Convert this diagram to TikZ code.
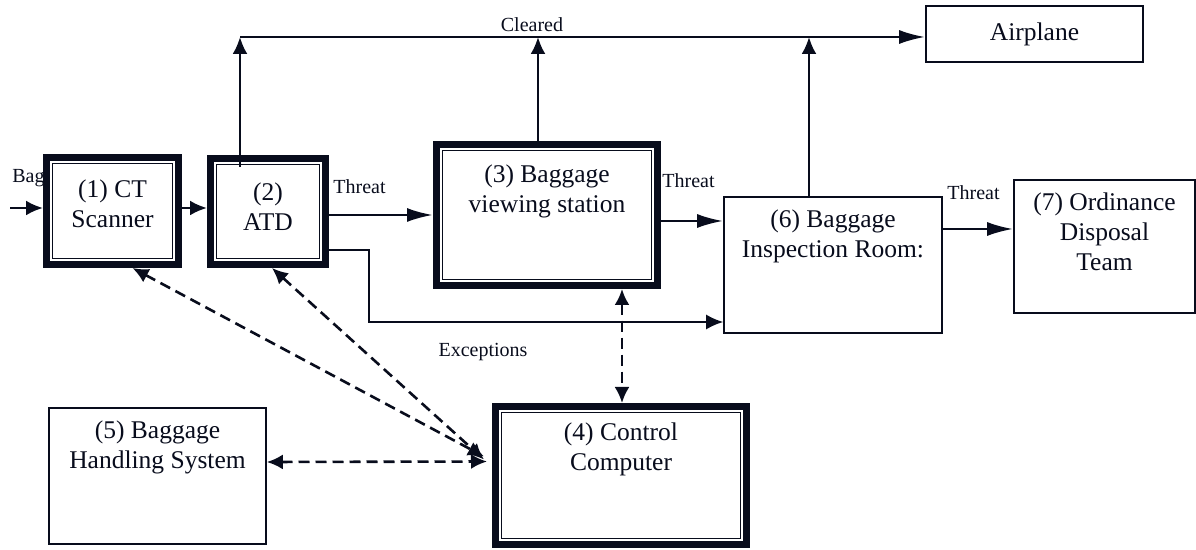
\documentclass[tikz,border=0pt]{standalone}
\usepackage{fontspec}
\setmainfont{Liberation Serif}
\usetikzlibrary{arrows.meta}
\definecolor{ink}{RGB}{8,12,28}
\tikzset{
  box/.style={draw=ink, line width=0.8pt, fill=white, inner sep=0pt},
  dbox/.style={draw=ink, line width=3.5pt, fill=white, inner sep=0pt},
  boxtext/.style={align=center, font=\rmfamily\fontsize{12.75pt}{15pt}\selectfont, text=ink, inner sep=0pt},
  lbl/.style={font=\rmfamily\fontsize{10pt}{12pt}\selectfont, text=ink, inner sep=0pt},
  arr/.style={draw=ink, line width=1.3pt, -{Latex[length=8.5pt,width=7.5pt]}},
  larr/.style={draw=ink, line width=1.3pt, -{Latex[length=13pt,width=7pt]}},
  darr/.style={draw=ink, line width=1.3pt, dash pattern=on 5.5pt off 3pt,
    {Latex[length=8pt,width=7.5pt]}-{Latex[length=8pt,width=7.5pt]}},
}

\begin{document}
\begin{tikzpicture}[x=0.5pt,y=-0.5pt]
  \useasboundingbox (0,0) rectangle (1196,550);
  \node[lbl,anchor=west] (bag) at (12,178) {Bag};
  % double framed stations
  \node[dbox,minimum width=66pt,minimum height=53.5pt] (ct) at (112.5,211) {};
  \node[dbox,minimum width=57.5pt,minimum height=53pt] (atd) at (268,211.5) {};
  \node[dbox,minimum width=110.5pt,minimum height=70.5pt] (bvs) at (547,215) {};
  \node[dbox,minimum width=125.5pt,minimum height=69pt] (cc) at (621,475.5) {};
  \foreach \b in {ct,atd,bvs,cc}
    \draw[ink,line width=0.8pt] ([shift={(4.75pt,-4.75pt)}]\b.north west) rectangle ([shift={(-4.75pt,4.75pt)}]\b.south east);
  % plain boxes
  \node[box,minimum width=108.5pt,minimum height=68pt] (bhs) at (157.5,476) {};
  \node[box,minimum width=109pt,minimum height=68pt] (bir) at (833,265) {};
  \node[box,minimum width=90.5pt,minimum height=66.5pt] (odt) at (1104.5,246.5) {};
  \node[box,boxtext,minimum width=108.5pt,minimum height=28pt] (plane) at (1034.5,34) {Airplane};
  % box texts
  \node[boxtext] (ct-t) at (112.5,204) {(1) CT\\Scanner};
  \node[boxtext] (atd-t) at (268,206.5) {(2)\\ATD};
  \node[boxtext] (bvs-t) at (547,191) {(3) Baggage\\viewing station};
  \node[boxtext] (cc-t) at (621,449) {(4) Control\\Computer};
  \node[boxtext] (bhs-t) at (157.5,447) {(5) Baggage\\Handling System};
  \node[boxtext] (bir-t) at (833,236) {(6) Baggage\\Inspection Room:};
  \node[boxtext] (odt-t) at (1104.5,231.5) {(7) Ordinance\\Disposal\\Team};
  % main flow
  \coordinate (bagin) at (10,208);
  \draw[arr] (bagin) -- (bagin -| ct.west);
  \draw[arr] ([yshift=1.5pt]ct.east) -- ([yshift=1.5pt]ct.east -| atd.west);
  \draw[larr] ([yshift=-1.75pt]atd.east) -- ([yshift=-1.75pt]atd.east -| bvs.west);
  \draw[arr,line width=0.9pt] ([yshift=-19.25pt]atd.east) -- ++(40,0) |- ([yshift=-28.5pt]bir.west);
  \draw[larr] ([yshift=-3pt]bvs.east) -- ([yshift=-3pt]bvs.east -| bir.west);
  \draw[larr] ([yshift=18pt]bir.east) -- ([yshift=18pt]bir.east -| odt.west);
  % cleared line
  \coordinate (clr) at ([yshift=-1.5pt]plane.west);
  \draw[arr] ([xshift=-14pt,yshift=-6pt]atd.north) -- ([xshift=-14pt]atd.north |- clr);
  \draw[larr] ([xshift=-14pt]atd.north |- clr) -- (clr);
  \draw[arr] ([xshift=-4.5pt]bvs.north) -- ([xshift=-4.5pt]bvs.north |- clr);
  \draw[arr] ([xshift=-12pt]bir.north) -- ([xshift=-12pt]bir.north |- clr);
  % control links
  \draw[darr] ([xshift=10pt]ct.south) -- ([shift={(-4pt,9.5pt)}]cc.west);
  \draw[darr] ([xshift=2pt]atd.south) -- ([shift={(-4pt,8pt)}]cc.west);
  \draw[darr] ([yshift=7pt]bhs.east) -- ([shift={(-2.5pt,7pt)}]cc.west);
  \draw[darr] ([xshift=37.5pt]bvs.south) -- ([xshift=37.5pt]bvs.south |- cc.north);
  % labels
  \node[lbl] (clrd) at (532,25) {Cleared};
  \node[lbl,anchor=west] (thr1) at (333,187) {Threat};
  \node[lbl,anchor=west] (thr2) at (662,181) {Threat};
  \node[lbl,anchor=west] (thr3) at (947,193) {Threat};
  \node[lbl] (exc) at (483,352) {Exceptions};
\end{tikzpicture}
\end{document}
